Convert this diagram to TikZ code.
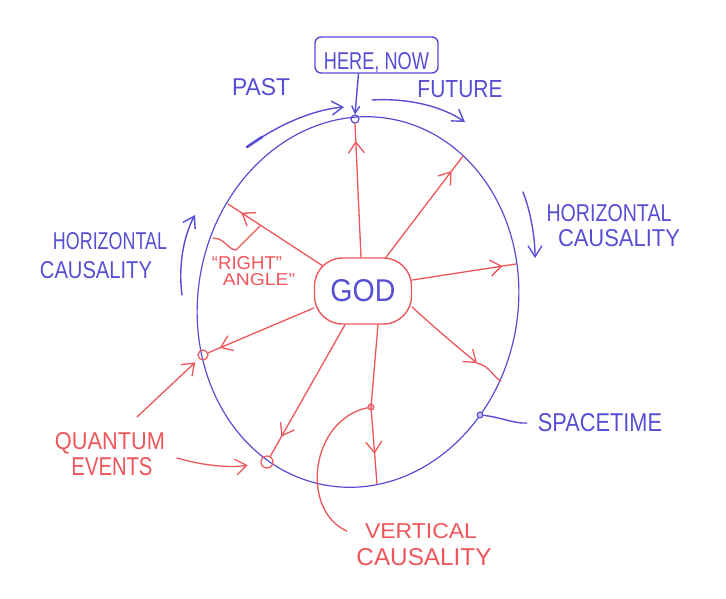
\documentclass[tikz,border=0pt]{standalone}
\usepackage{fontspec}
\setmainfont{Liberation Sans}
\usepackage{graphicx}
\usetikzlibrary{arrows.meta,decorations.markings}
\definecolor{inkblue}{RGB}{88,78,212}
\definecolor{inkred}{RGB}{238,86,92}
\newcommand{\hw}[3]{\resizebox{#1pt}{#2pt}{#3}}
\begin{document}
\begin{tikzpicture}[x=1pt,y=-1pt,
  blueline/.style={color=inkblue, line width=1.4pt, line cap=round, line join=round},
  redline/.style={color=inkred, line width=1.3pt, line cap=round, line join=round},
  bluetxt/.style={text=inkblue, inner sep=0pt},
  redtxt/.style={text=inkred, inner sep=0pt},
  redbarb/.style={-{Straight Barb[length=11pt,width=16pt]}},
  bluebarb/.style={-{Straight Barb[length=11pt,width=14pt]}},
  midarrow/.style={postaction={decorate,decoration={markings,mark=at position #1 with {\arrow{Straight Barb[length=11pt,width=16pt]}}}}},
]
\fill[white] (0,0) rectangle (726,598);
\useasboundingbox (0,0) rectangle (726,598);

% spacetime ellipse (slightly tilted)
\draw[blueline, line width=1.2pt, rotate around={-10:(358,302)}] (358,302) ellipse [x radius=160, y radius=186];

% nodes
\node[draw=inkblue, line width=1.4pt, rounded corners=6pt, minimum width=123pt,
      minimum height=36pt, inner sep=0pt, text=inkblue, text height=30pt, text depth=1pt]
      (herenow) at (376.5,55) {\hw{105}{17}{HERE, NOW}};
\node[draw=inkred, line width=1.4pt, rounded corners=28pt, minimum width=97pt,
      minimum height=66pt, inner sep=0pt, text=inkblue] (god) at (363,291) {\hw{65}{22}{GOD}};

\node[circle, draw=inkblue, line width=1.2pt, minimum size=8pt, inner sep=0pt] (now) at (355,119) {};
\node[circle, draw=inkred, line width=1.2pt, minimum size=10pt, inner sep=0pt] (qe1) at (203,355) {};
\node[circle, draw=inkred, line width=1.2pt, minimum size=12pt, inner sep=0pt] (qe2) at (267,462) {};
\node[circle, draw=inkred, fill=inkred!40, line width=1pt, minimum size=6pt, inner sep=0pt] (vc) at (371,407) {};
\node[circle, draw=inkblue, fill=inkblue!40, line width=1pt, minimum size=6pt, inner sep=0pt] (sp) at (480,415) {};

% texts
\node[bluetxt] (past) at (261,87) {\hw{58}{17}{PAST}};
\node[bluetxt] (future) at (460,89) {\hw{85}{17}{FUTURE}};
\node[bluetxt] (hcl1) at (110,241) {\hw{114}{17}{HORIZONTAL}};
\node[bluetxt] (hcl2) at (96,270) {\hw{112}{17}{CAUSALITY}};
\node[bluetxt] (hcr1) at (609,213) {\hw{125}{17}{HORIZONTAL}};
\node[bluetxt] (hcr2) at (619,238) {\hw{122}{17}{CAUSALITY}};
\node[bluetxt] (spacetime) at (600,423) {\hw{124}{18}{SPACETIME}};
\node[redtxt] (qt1) at (110,443) {\hw{110}{17}{QUANTUM}};
\node[redtxt] (qt2) at (112,467) {\hw{81}{18}{EVENTS}};
\node[redtxt] (vert) at (421,531) {\hw{112}{15}{VERTICAL}};
\node[redtxt] (caus) at (424,557) {\hw{135}{17}{CAUSALITY}};
\node[redtxt] (ra1) at (247,263) {\hw{70}{13}{“RIGHT”}};
\node[redtxt] (ra2) at (259,280) {\hw{72}{12}{ANGLE”}};

% coordinates
\coordinate (c2) at (463,156);
\coordinate (c3) at (516,264);
\coordinate (c4m) at (477,363);
\coordinate (c4) at (501,381);
\coordinate (c5) at (377,484);
\coordinate (c8) at (228,204);
\coordinate (pastS) at (247,147);
\coordinate (pastE) at (344,107);
\coordinate (futS) at (372,100);
\coordinate (futE) at (465,122);
\coordinate (hlS) at (182,295);
\coordinate (hlE) at (195,215);
\coordinate (hrS) at (523,192);
\coordinate (hrE) at (535,258);
\coordinate (qa1) at (137,417);
\coordinate (qa2) at (177,458);
\coordinate (ra0) at (213,238);
\coordinate (raK) at (236,250);
\coordinate (raE) at (261,225);

% blue connectors
\draw[blueline, -{Straight Barb[length=7pt,width=8pt]}] ([xshift=-18pt]herenow.south) -- (now.north);
\draw[blueline, bluebarb] (pastS) .. controls (275,127) and (310,110) .. (pastE);
\draw[blueline, line width=2.6pt] (pastS) -- ++(15,-10);
\draw[blueline, bluebarb] (futS) .. controls (405,98) and (440,105) .. (futE);
\draw[blueline, bluebarb] (hlS) .. controls (178,265) and (184,235) .. (hlE);
\draw[blueline, bluebarb] (hrS) .. controls (530,210) and (535,235) .. (hrE);
\draw[blueline] (sp) .. controls (500,417) and (515,424) .. ([xshift=-11pt]spacetime.west);

% red connectors from GOD
\draw[redline, midarrow=0.87] ([xshift=-2pt]god.north) -- (now.south);
\draw[redline, midarrow=0.85] ([xshift=23pt]god.north) -- (c2);
\draw[redline, midarrow=0.87] ([yshift=11pt]god.east) -- (c3);
\draw[redline, redbarb] ([yshift=-16pt]god.east) .. controls (428,322) and (455,345) .. (c4m);
\draw[redline] (c4m) .. controls (490,366) and (494,378) .. (c4);
\draw[redline, midarrow=0.81] ([xshift=15pt]god.south) -- (vc.center) -- (c5);
\draw[redline, midarrow=0.85] ([xshift=-18pt]god.south) -- (qe2);
\draw[redline, midarrow=0.89] ([yshift=-17pt]god.west) -- (qe1);
\draw[redline, midarrow=0.86] ([xshift=-40pt,yshift=25pt]god.center) -- (c8);
\draw[redline] (ra0) .. controls (225,238) and (228,250) .. (raK) -- (raE);

% red label connectors
\draw[redline] (vc) .. controls (310,420) and (300,510) .. ([xshift=-18pt]vert.west);
\draw[redline, redbarb, shorten >=5pt] (qa1) -- (qe1);
\draw[redline, redbarb, shorten >=13pt] (qa2) .. controls (205,466) and (230,468) .. (qe2);
\end{tikzpicture}
\end{document}
